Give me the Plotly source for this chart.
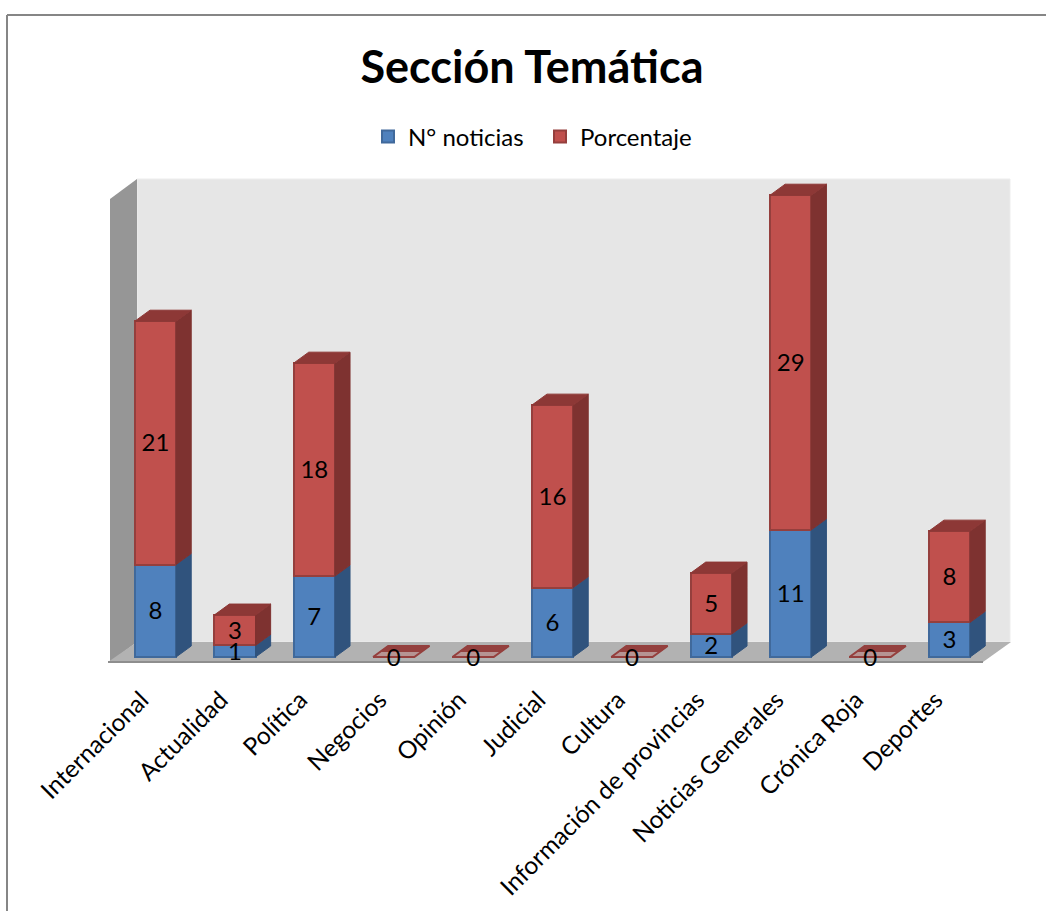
import plotly.graph_objects as go

categories = ["Internacional", "Actualidad", "Política", "Negocios", "Opinión", "Judicial",
              "Cultura", "Información de provincias", "Noticias Generales", "Crónica Roja", "Deportes"]
noticias = [8, 1, 7, 0, 0, 6, 0, 2, 11, 0, 3]
porcentaje = [21.05, 2.63, 18.42, 0, 0, 15.79, 0, 5.26, 28.95, 0, 7.89]

W, H = 1046, 911
FONT = "Lato"
BLUE, BLUE_EDGE, BLUE_SIDE = "#4F81BD", "#40699B", "#30537D"
RED, RED_EDGE, RED_SIDE, RED_TOP = "#C0504D", "#953F3D", "#7E3230", "#8D3836"
BAR_W = 0.52   # category units
DX, DY = 0.19, 0.95  # depth offset in data units
LABEL_NUDGE = 0.22   # text sits slightly high when centred

# plot frame in pixels
PX_LEFT, PX_RIGHT = 115.8, 989.2
PX_BASE, PX_TOP = 657, 179
PX_PER_UNIT = 11.56
Y_MIN = -0.25
Y_MAX = (PX_BASE - PX_TOP) / PX_PER_UNIT
PX_BOTTOM = PX_BASE - Y_MIN * PX_PER_UNIT


def px(x):
    return x / W


def py(y):
    return 1 - y / H


def side(i, y0, y1):
    r = i + BAR_W / 2
    return [r, r + DX, r + DX, r, r, None], [y0, y0 + DY, y1 + DY, y1, y0, None]


def top(i, y, start=0.0):
    l, r = i - BAR_W / 2, i + BAR_W / 2
    a, b = y + DY * start, y + DY
    return ([l + DX * start, r + DX * start, r + DX, l + DX, l + DX * start, None],
            [a, a, b, b, a, None])


def collect(polys):
    xs, ys = [], []
    for a, b in polys:
        xs += a
        ys += b
    return xs, ys


idx = list(range(len(categories)))
totals = [a + b for a, b in zip(noticias, porcentaje)]

fig = go.Figure()
fig.add_bar(x=idx, y=noticias, name="N° noticias", width=BAR_W,
            marker=dict(color=BLUE, line=dict(color=BLUE_EDGE, width=2)), hoverinfo="skip")
fig.add_bar(x=idx, y=porcentaje, name="Porcentaje", width=BAR_W,
            marker=dict(color=RED, line=dict(color=RED_EDGE, width=2)), hoverinfo="skip")


def poly(polys, color, line=None, width=1):
    xs, ys = collect(polys)
    fig.add_scatter(x=xs, y=ys, mode="lines", fill="toself", fillcolor=color,
                    line=dict(color=line or color, width=width),
                    showlegend=False, hoverinfo="skip", cliponaxis=False)


poly([side(i, 0, noticias[i]) for i in idx if noticias[i] > 0], BLUE_SIDE)
poly([side(i, noticias[i], totals[i]) for i in idx if totals[i] > 0], RED_SIDE)
poly([top(i, totals[i]) for i in idx if totals[i] > 0], RED_TOP)
poly([top(i, 0) for i in idx if totals[i] == 0], "rgba(192,80,77,0.3)", RED_EDGE, 2)
poly([top(i, 0, 0.5) for i in idx if totals[i] == 0], "#94403E")

# value labels
lx, ly, lt = [], [], []
for i in idx:
    if totals[i] == 0:
        lx.append(i); ly.append(-LABEL_NUDGE); lt.append("0")
    else:
        lx.append(i); ly.append(noticias[i] / 2 - LABEL_NUDGE); lt.append(str(noticias[i]))
        lx.append(i); ly.append(noticias[i] + porcentaje[i] / 2 - LABEL_NUDGE); lt.append(str(round(porcentaje[i])))
fig.add_scatter(x=lx, y=ly, text=lt, mode="text", textposition="middle center",
                textfont=dict(family=FONT, size=24, color="black"),
                showlegend=False, hoverinfo="skip", cliponaxis=False)

shapes = [
    # chart frame
    dict(type="line", x0=px(7), x1=px(7), y0=py(15), y1=py(H), line=dict(color="#868686", width=2)),
    dict(type="line", x0=px(7), x1=px(W), y0=py(15), y1=py(15), line=dict(color="#868686", width=2)),
    # back wall
    dict(type="rect", x0=px(137), x1=px(1010), y0=py(179), y1=py(642),
         fillcolor="#E6E6E6", line=dict(color="#EDEDED", width=1)),
    # left wall
    dict(type="path", path=f"M {px(110)} {py(199)} L {px(137)} {py(179)} L {px(137)} {py(642)} L {px(110)} {py(662)} Z",
         fillcolor="#969696", line=dict(width=0)),
    # floor
    dict(type="path", path=f"M {px(108)} {py(662)} L {px(137)} {py(642)} L {px(1011)} {py(642)} L {px(983)} {py(662)} Z",
         fillcolor="#B2B2B2", line=dict(width=0)),
    dict(type="line", x0=px(108), x1=px(983), y0=py(662), y1=py(662), line=dict(color="#8E8E8E", width=2)),
]
for s in shapes:
    s.update(xref="paper", yref="paper", layer="below")

fig.update_layout(
    width=W, height=H, margin=dict(l=0, r=0, t=0, b=0, autoexpand=False),
    paper_bgcolor="white", plot_bgcolor="rgba(0,0,0,0)",
    barmode="stack", shapes=shapes,
    title=dict(text="<b>Sección Temática</b>", x=532 / W, xanchor="center", y=py(67), yanchor="middle",
               font=dict(family=FONT, size=45, color="black")),
    legend=dict(orientation="h", x=px(368), xanchor="left", y=py(137), yanchor="middle",
                font=dict(family=FONT, size=24, color="black"), itemwidth=30,
                entrywidth=127, entrywidthmode="pixels",
                bgcolor="rgba(0,0,0,0)", traceorder="normal"),
    xaxis=dict(domain=[px(PX_LEFT), px(PX_RIGHT)], range=[-0.5, 10.5], automargin=False,
               tickmode="array", tickvals=idx, ticktext=categories, tickangle=-45,
               tickfont=dict(family=FONT, size=24.5, color="black"),
               ticks="outside", ticklen=15, tickcolor="rgba(0,0,0,0)", ticklabelshift=-14,
               showgrid=False, zeroline=False, showline=False),
    yaxis=dict(domain=[py(PX_BOTTOM), py(PX_TOP)], range=[Y_MIN, Y_MAX], visible=False),
)

fig.write_html("out.html", config=dict(displayModeBar=False),
               post_script="document.body.style.margin='0';document.documentElement.style.overflow='hidden';")
